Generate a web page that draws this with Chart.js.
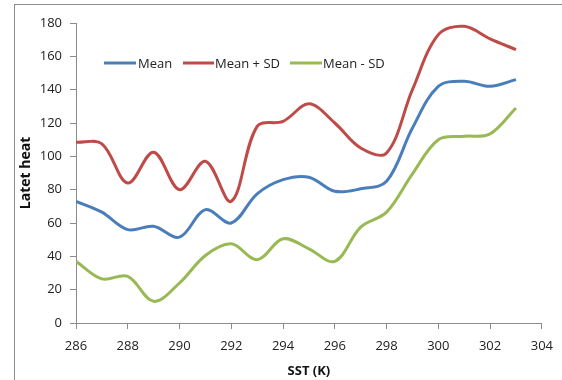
<!DOCTYPE html>
<html>
<head>
<meta charset="utf-8">
<script src="https://cdn.jsdelivr.net/npm/chart.js@4/dist/chart.umd.min.js"></script>
<style>
html,body{margin:0;padding:0;background:#fff;}
#wrap{width:562px;height:380px;position:relative;}
</style>
</head>
<body>
<div id="wrap"><canvas id="c" width="562" height="380"></canvas></div>
<script>
const sst = [286,287,288,289,290,291,292,293,294,295,296,297,298,299,300,301,302,303];
const meanVals  = [73,66.5,56,58,51.5,68,60,77.5,86,87.5,79,80.5,85,117,142,145,142,146];
const meanPlusSD  = [108.5,107.5,84,102.5,80,97,73,118,121,131.5,120,105,102,140,173,178,170.5,164];
const meanMinusSD = [37,26.5,28,13,24,40.5,47.5,38,50.5,44.5,37,57.5,66.5,89.5,110,112,113.5,129];
const seriesNames = ['Mean','Mean + SD','Mean - SD'];
const xTicks = [286,288,290,292,294,296,298,300,302,304];
const yTicks = [0,20,40,60,80,100,120,140,160,180];

const colors = ['#4A7EBB','#BE4B48','#98B954'];
const toPts = arr => sst.map((x,i)=>({x:x,y:arr[i]}));
const FONT = "'Open Sans', sans-serif";

const framePlugin = {
  id:'frame',
  beforeDraw(chart){
    const ctx = chart.ctx;
    ctx.save();
    ctx.fillStyle='#fff';
    ctx.fillRect(0,0,chart.width,chart.height);
    ctx.strokeStyle='#8c8c8c';
    ctx.lineWidth=1;
    ctx.strokeRect(14.5,4.5,700,500);
    ctx.restore();
  }
};
const legendPlugin = {
  id:'customLegend',
  afterDraw(chart){
    const ctx = chart.ctx;
    const items = [
      {lx:104, lw:32, tx:138},
      {lx:183, lw:31, tx:215},
      {lx:290, lw:32, tx:323}
    ];
    ctx.save();
    ctx.font = "13px " + FONT;
    ctx.textBaseline='middle';
    ctx.textAlign='left';
    chart.data.datasets.forEach((ds,i)=>{
      const it = items[i], y = 63;
      ctx.strokeStyle = ds.borderColor;
      ctx.lineWidth = 3;
      ctx.beginPath();
      ctx.moveTo(it.lx,y);
      ctx.lineTo(it.lx+it.lw,y);
      ctx.stroke();
      ctx.fillStyle='#222';
      ctx.fillText(ds.label,it.tx,y+1);
    });
    ctx.restore();
  }
};

new Chart(document.getElementById('c'),{
  type:'line',
  data:{
    datasets:[
      {label:seriesNames[0], data:toPts(meanVals), borderColor:colors[0]},
      {label:seriesNames[1], data:toPts(meanPlusSD), borderColor:colors[1]},
      {label:seriesNames[2], data:toPts(meanMinusSD), borderColor:colors[2]}
    ].map(d=>Object.assign(d,{borderWidth:3,pointRadius:0,tension:0.35,fill:false,backgroundColor:d.borderColor}))
  },
  options:{
    responsive:false,
    animation:false,
    layout:{padding:{left:0,right:18,top:23,bottom:0}},
    plugins:{legend:{display:false},tooltip:{enabled:false}},
    scales:{
      x:{
        type:'linear', min:286, max:304,
        afterBuildTicks(s){ s.ticks = xTicks.map(v=>({value:v})); },
        afterFit(s){ s.height = 57; },
        grid:{display:true,drawOnChartArea:false,drawTicks:true,tickLength:6,color:'#8c8c8c'},
        border:{color:'#8c8c8c',width:1},
        ticks:{font:{family:FONT,size:13},color:'#222',padding:9,maxRotation:0},
        title:{display:true,text:'SST (K)',font:{family:FONT,size:13,weight:'bold'},color:'#111',padding:{top:0,bottom:1}}
      },
      y:{
        min:0, max:180,
        afterBuildTicks(s){ s.ticks = yTicks.map(v=>({value:v})); },
        afterFit(s){ s.width = 76; },
        grid:{display:true,drawOnChartArea:false,drawTicks:true,tickLength:6,color:'#8c8c8c'},
        border:{color:'#8c8c8c',width:1},
        ticks:{font:{family:FONT,size:13},color:'#222',padding:8},
        title:{display:true,text:'Latet heat',font:{family:FONT,size:14,weight:'bold'},color:'#111',padding:{top:18,bottom:0}}
      }
    }
  },
  plugins:[framePlugin,legendPlugin]
});
</script>
</body>
</html>
